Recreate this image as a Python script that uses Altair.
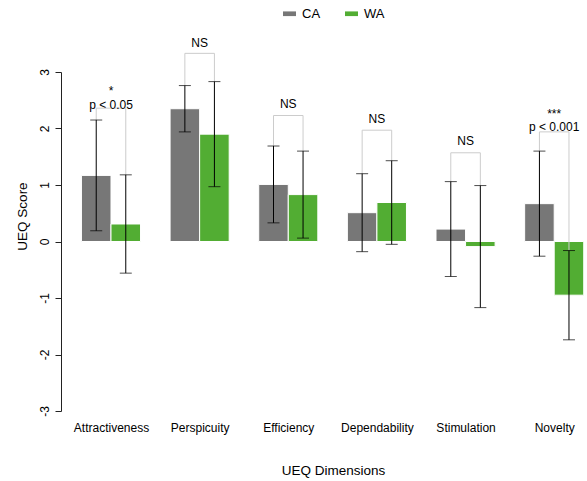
import json
import altair as alt
import pandas as pd

# ---- data ----
categories = ["Attractiveness", "Perspicuity", "Efficiency", "Dependability", "Stimulation", "Novelty"]
groups = ["CA", "WA"]
ca_mean = [1.17, 2.35, 1.01, 0.51, 0.22, 0.67]
ca_sd = [0.98, 0.41, 0.68, 0.69, 0.84, 0.93]
wa_mean = [0.31, 1.90, 0.83, 0.69, -0.09, -0.95]
wa_sd = [0.87, 0.93, 0.77, 0.74, 1.08, 0.79]
bracket_y = [2.36, 3.33, 2.23, 1.97, 1.57, 1.94]
sig_text = ["p < 0.05", "NS", "NS", "NS", "NS", "p < 0.001"]
sig_text_y = [2.35, 3.45, 2.36, 2.09, 1.70, 1.95]
star_text = ["*", "", "", "", "", "***"]
star_text_y = [2.59, 0, 0, 0, 0, 2.19]
y_ticks = [-3, -2, -1, 0, 1, 2, 3]

FONT = "Liberation Sans"
GRAY = "#777777"
GREEN = "#52ad33"

# ---- tables built from the lists ----
bar_rows = []
for i, cat in enumerate(categories):
    for g, means, sds, off in (("CA", ca_mean, ca_sd, -1), ("WA", wa_mean, wa_sd, 1)):
        c = i + off / 6.0
        m, s = means[i], sds[i]
        bar_rows.append(dict(category=cat, group=g, xa=c - 1 / 6.0, xb=c + 1 / 6.0, xc=c,
                             ya=m, yb=0.0, lo=m - s, hi=m + s, bracket=bracket_y[i]))
bars_df = pd.DataFrame(bar_rows)

brk_rows = []
for i, cat in enumerate(categories):
    brk_rows.append(dict(category=cat, xa=i - 1 / 6.0, xb=i + 1 / 6.0, ya=bracket_y[i]))
brk_df = pd.DataFrame(brk_rows)

txt_rows = []
for i, cat in enumerate(categories):
    txt_rows.append(dict(xa=float(i), ya=sig_text_y[i], label=sig_text[i]))
    if star_text[i]:
        txt_rows.append(dict(xa=float(i), ya=star_text_y[i], label=star_text[i]))
txt_df = pd.DataFrame(txt_rows)

xscale = alt.Scale(domain=[-0.564, 5.37], nice=False, zero=False)
yscale = alt.Scale(domain=[-3, 3], nice=False, zero=False)

x_axis = alt.Axis(
    values=list(range(len(categories))),
    labelExpr=json.dumps(categories) + "[datum.value]",
    domain=False, ticks=False, tickSize=0, grid=False,
    labelFont=FONT, labelFontSize=12, labelColor="#000000", labelAngle=0,
    labelAlign="center", labelBaseline="alphabetic", labelPadding=20.2,
    labelFlush=False, labelOverlap=False,
    title="UEQ Dimensions", titleFont=FONT, titleFontSize=13.5, titleFontWeight="normal",
    titleColor="#000000", titleX=272, titleY=63, titleAlign="center", titleBaseline="alphabetic",
)
y_axis = alt.Axis(
    values=y_ticks, labelExpr="'' + datum.value",
    domain=True, domainColor="#222222", domainWidth=1,
    ticks=True, tickColor="#222222", tickSize=6, tickWidth=1, grid=False,
    labelFont=FONT, labelFontSize=12, labelColor="#000000", labelAngle=270,
    labelAlign="center", labelBaseline="alphabetic", labelPadding=6.7,
    labelFlush=False, labelOverlap=False,
    title="UEQ Score", titleFont=FONT, titleFontSize=13.5, titleFontWeight="normal",
    titleColor="#000000", titleAngle=270, titleX=-34.3, titleY=144,
    titleAlign="center", titleBaseline="alphabetic",
)


def X(field):
    return alt.X(field, type="quantitative", scale=xscale, axis=x_axis)


def Y(field):
    return alt.Y(field, type="quantitative", scale=yscale, axis=y_axis)


bars = alt.Chart(bars_df).mark_bar(stroke="white", strokeWidth=1).encode(
    x=X("xa"), x2="xb", y=Y("ya"), y2="yb",
    color=alt.Color("group:N", scale=alt.Scale(domain=groups, range=[GRAY, GREEN]),
                    legend=alt.Legend(orient="none", legendX=222, legendY=-65, direction="horizontal",
                                      title=None, symbolType="M-1,-0.36H1V0.36H-1Z", symbolSize=169,
                                      symbolStrokeWidth=0, labelFont=FONT, labelFontSize=13,
                                      labelColor="#000000", labelOffset=6, columnPadding=24, padding=0)),
)

bracket_v = alt.Chart(bars_df).mark_rule(color="#cccccc", strokeWidth=1).encode(
    x=X("xc"), y=Y("hi"), y2="bracket",
)
bracket_h = alt.Chart(brk_df).mark_rule(color="#cccccc", strokeWidth=1).encode(
    x=X("xa"), x2="xb", y=Y("ya"),
)

err = alt.Chart(bars_df).mark_rule(color="#000000", strokeWidth=1).encode(
    x=X("xc"), y=Y("lo"), y2="hi",
)
cap_hi = alt.Chart(bars_df).mark_tick(color="#000000", orient="horizontal", size=12, thickness=1).encode(
    x=X("xc"), y=Y("hi"),
)
cap_lo = alt.Chart(bars_df).mark_tick(color="#000000", orient="horizontal", size=12, thickness=1).encode(
    x=X("xc"), y=Y("lo"),
)

texts = alt.Chart(txt_df).mark_text(font=FONT, fontSize=12, color="#000000",
                                    align="center", baseline="alphabetic").encode(
    x=X("xa"), y=Y("ya"), text="label:N",
)

chart = alt.layer(bars, bracket_v, bracket_h, err, cap_hi, cap_lo, texts).properties(
    width=526, height=339,
    background="white",
    autosize=alt.AutoSizeParams(type="none"),
    padding={"left": 61, "top": 72, "right": 0, "bottom": 70},
).configure_view(stroke="transparent", strokeWidth=0)

chart.save("out.html", embed_options={"renderer": "svg", "actions": False})
